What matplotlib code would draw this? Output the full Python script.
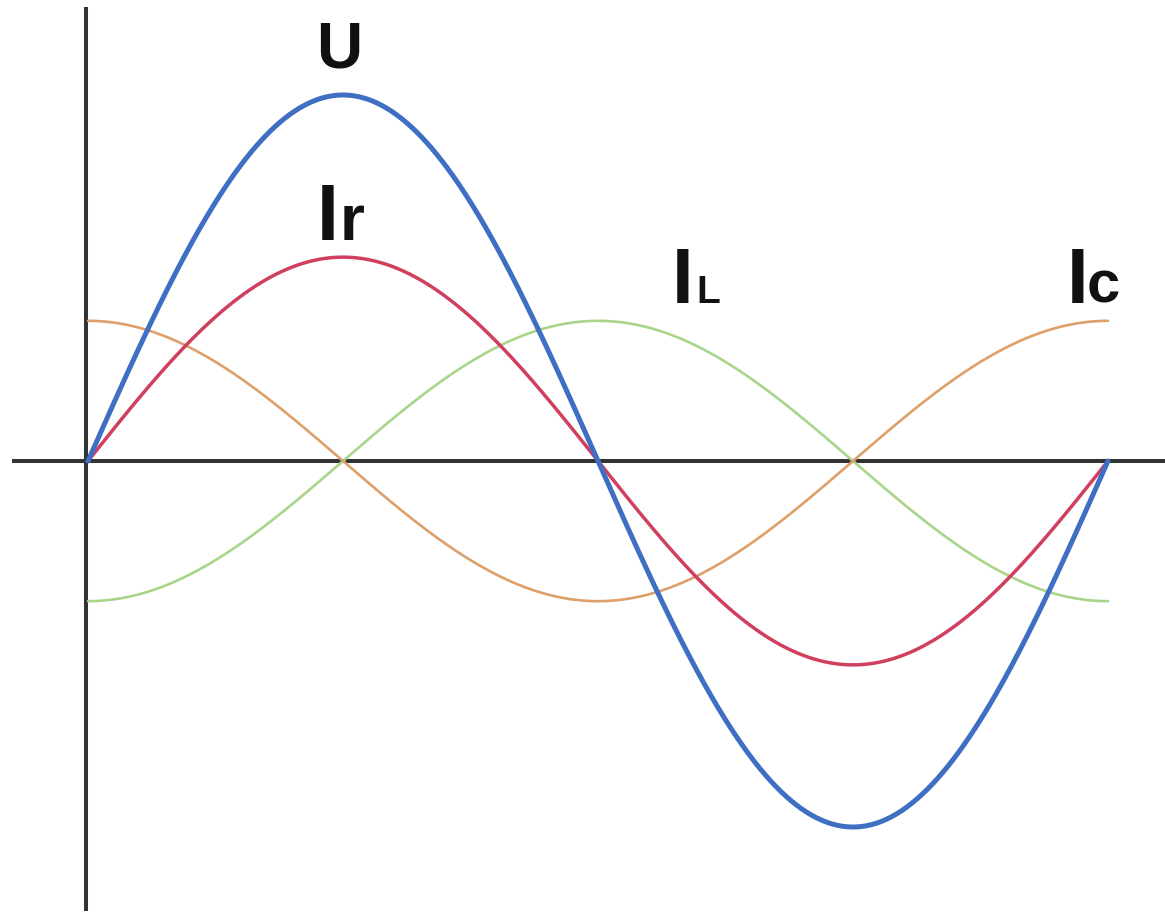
import numpy as np
import matplotlib
matplotlib.use("Agg")
import matplotlib.pyplot as plt

# ---- data (amplitudes relative to U, phase shifts in radians) ----
series_names = ["IL", "Ic", "Ir", "U"]
amplitudes = [0.383, 0.383, 0.557, 1.0]
phases = [-np.pi / 2, np.pi / 2, 0.0, 0.0]
colors = ["#a9d58a", "#dea06a", "#d0405e", "#3f6fc2"]
linewidths = [1.9, 1.9, 2.5, 3.6]

# one full period of the angle
t_start, t_end = 0.0, 2 * np.pi

W, H = 1165, 916
fig = plt.figure(figsize=(W / 100, H / 100), dpi=100)
ax = fig.add_axes([0, 0, 1, 1])
ax.set_axis_off()

# pixel geometry of the reference: origin at (88, 461), period 1020 px, 366 px per unit
x0_px, y0_px, period_px, unit_px = 88, 461, 1020, 366
ax.set_xlim(-x0_px / period_px * 2 * np.pi, (W - x0_px) / period_px * 2 * np.pi)
ax.set_ylim(-(H - y0_px) / unit_px, y0_px / unit_px)

# axes lines
ax.plot([-0.47, ax.get_xlim()[1]], [0, 0], color="#333333", lw=2.9, solid_capstyle="butt", zorder=1)
ax.plot([-0.015, -0.015], [-1.23, 1.24], color="#333333", lw=2.9, solid_capstyle="butt", zorder=1)

t = np.linspace(t_start, t_end, 600)
for name, a, p, c, lw in zip(series_names, amplitudes, phases, colors, linewidths):
    ax.plot(t, a * np.sin(t + p), color=c, lw=lw, zorder=3, solid_capstyle="round")

fam = ["Liberation Sans", "DejaVu Sans"]
kw = dict(family=fam, fontweight="bold", color="#111111", ha="left", va="baseline", zorder=5)
ax.text(1.405, 1.074, "U", fontsize=46, **kw)
ax.text(1.411, 0.604, "I", fontsize=57, **kw)
ax.text(1.552, 0.604, "r", fontsize=46, **kw)
ax.text(3.597, 0.432, "I", fontsize=56, **kw)
ax.text(3.745, 0.432, "L", fontsize=28, **kw)
ax.text(6.031, 0.432, "I", fontsize=56, **kw)
ax.text(6.154, 0.432, "c", fontsize=43, **kw)

fig.savefig("out.png", dpi=100, facecolor="white")
